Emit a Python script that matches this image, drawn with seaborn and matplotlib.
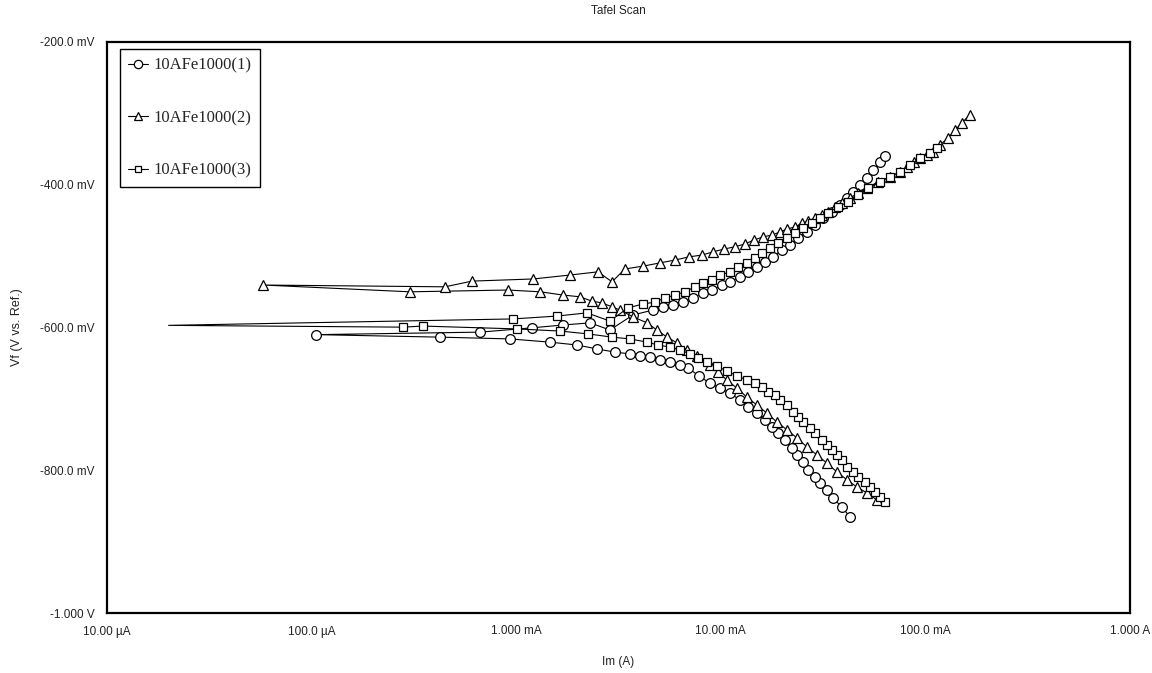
import matplotlib
matplotlib.use("Agg")
import matplotlib.pyplot as plt
import seaborn as sns
from matplotlib.lines import Line2D
from matplotlib.ticker import FixedLocator, NullLocator, FixedFormatter

# ---------------- data (current in A, potential in mV), scan order ----------------
series_names = ["10AFe1000(1)", "10AFe1000(2)", "10AFe1000(3)"]

i1 = [4.28e-2, 3.91e-2, 3.53e-2, 3.30e-2, 3.05e-2, 2.88e-2, 2.67e-2, 2.52e-2, 2.36e-2, 2.23e-2,
      2.06e-2, 1.91e-2, 1.78e-2, 1.64e-2, 1.50e-2, 1.36e-2, 1.24e-2, 1.11e-2, 9.91e-3, 8.85e-3,
      7.82e-3, 6.92e-3, 6.32e-3, 5.65e-3, 5.04e-3, 4.51e-3, 4.03e-3, 3.60e-3, 3.04e-3, 2.48e-3,
      1.98e-3, 1.46e-3, 9.33e-4, 4.25e-4, 1.05e-4,
      6.65e-4, 1.19e-3, 1.69e-3, 2.30e-3, 2.87e-3, 3.72e-3, 4.67e-3, 5.21e-3, 5.83e-3, 6.53e-3,
      7.31e-3, 8.18e-3, 9.06e-3, 1.01e-2, 1.11e-2, 1.24e-2, 1.36e-2, 1.50e-2, 1.64e-2, 1.80e-2,
      1.99e-2, 2.18e-2, 2.38e-2, 2.64e-2, 2.88e-2, 3.16e-2, 3.49e-2, 3.83e-2, 4.14e-2, 4.43e-2,
      4.79e-2, 5.19e-2, 5.55e-2, 6.00e-2, 6.35e-2]
v1 = [-865.5, -851.5, -839, -827.5, -818, -809.5, -800, -788.5, -778.5, -769,
      -757.5, -748, -739.5, -729.5, -720, -711.5, -701.5, -692, -685, -678,
      -668, -656.5, -652.5, -648.5, -645.5, -641.5, -640, -637, -634.5, -630,
      -624.5, -620.5, -616, -613.5, -610,
      -606.5, -600.5, -596.5, -593.5, -603.5, -582.5, -575.5, -571, -568.5, -564.5,
      -558.5, -551.5, -547.5, -540.5, -536, -529, -522, -515, -508, -501,
      -491.5, -484.5, -474.5, -466, -456.5, -446.5, -438, -428.5, -418.5, -410,
      -400.5, -390.5, -379.5, -368, -360]

i2 = [5.79e-2, 5.19e-2, 4.63e-2, 4.14e-2, 3.70e-2, 3.30e-2, 2.95e-2, 2.64e-2, 2.36e-2, 2.11e-2,
      1.88e-2, 1.68e-2, 1.50e-2, 1.34e-2, 1.20e-2, 1.07e-2, 9.68e-3, 8.85e-3, 7.66e-3, 6.84e-3,
      6.11e-3, 5.46e-3, 4.87e-3, 4.36e-3, 3.72e-3, 3.21e-3, 2.94e-3, 2.62e-3, 2.34e-3, 2.05e-3,
      1.69e-3, 1.31e-3, 9.12e-4, 3.03e-4, 5.8e-5,
      4.49e-4, 6.08e-4, 1.21e-3, 1.83e-3, 2.51e-3, 2.94e-3, 3.40e-3, 4.17e-3, 5.04e-3, 5.97e-3,
      7.00e-3, 8.09e-3, 9.16e-3, 1.04e-2, 1.17e-2, 1.31e-2, 1.45e-2, 1.61e-2, 1.78e-2, 1.95e-2,
      2.11e-2, 2.31e-2, 2.50e-2, 2.67e-2, 2.88e-2, 3.13e-2, 3.34e-2, 3.61e-2, 3.91e-2, 4.28e-2,
      4.69e-2, 5.19e-2, 5.86e-2, 6.71e-2, 7.52e-2, 8.13e-2, 8.79e-2, 9.42e-2, 1.02e-1, 1.09e-1,
      1.18e-1, 1.29e-1, 1.40e-1, 1.51e-1, 1.65e-1]
v2 = [-841.5, -832, -823.5, -813.5, -802.5, -790, -778.5, -767.5, -755, -743.5,
      -732.5, -720, -708.5, -697.5, -685, -673.5, -662.5, -652.5, -640, -631.5,
      -621.5, -613.5, -603.5, -593.5, -585, -575.5, -571, -565.5, -563, -557,
      -554.5, -550, -547.5, -550, -540.5,
      -543, -535, -532, -526.5, -522, -536, -518, -514, -509.5, -505.5,
      -501, -498.5, -494, -490, -487, -483, -477.5, -473, -470.5, -466,
      -462, -459, -453.5, -451, -446.5, -442.5, -438, -431, -425.5, -418.5,
      -411.5, -404.5, -396, -389, -382, -375, -368, -362.5, -358, -354,
      -344, -334.5, -323, -313, -302]

i3 = [6.35e-2, 6.00e-2, 5.67e-2, 5.36e-2, 5.07e-2, 4.69e-2, 4.43e-2, 4.14e-2, 3.91e-2, 3.70e-2,
      3.49e-2, 3.30e-2, 3.13e-2, 2.88e-2, 2.73e-2, 2.52e-2, 2.38e-2, 2.25e-2, 2.11e-2, 1.95e-2,
      1.84e-2, 1.70e-2, 1.59e-2, 1.47e-2, 1.34e-2, 1.20e-2, 1.07e-2, 9.57e-3, 8.57e-3, 7.75e-3,
      7.07e-3, 6.32e-3, 5.65e-3, 4.93e-3, 4.36e-3, 3.60e-3, 2.94e-3, 2.25e-3, 1.64e-3, 1.01e-3,
      3.50e-4, 2.80e-4, 2.0e-5,
      9.63e-4, 1.58e-3, 2.22e-3, 2.87e-3, 3.52e-3, 4.17e-3, 4.76e-3, 5.33e-3, 5.97e-3, 6.68e-3,
      7.48e-3, 8.18e-3, 9.06e-3, 9.91e-3, 1.11e-2, 1.21e-2, 1.34e-2, 1.47e-2, 1.59e-2, 1.74e-2,
      1.91e-2, 2.11e-2, 2.31e-2, 2.52e-2, 2.79e-2, 3.05e-2, 3.34e-2, 3.74e-2, 4.19e-2, 4.69e-2,
      5.25e-2, 6.00e-2, 6.71e-2, 7.52e-2, 8.41e-2, 9.42e-2, 1.05e-1, 1.14e-1]
v3 = [-844.5, -837.5, -830.5, -823.5, -816.5, -809.5, -802.5, -795.5, -785.5, -778.5,
      -771.5, -764.5, -757.5, -748, -741, -732.5, -725.5, -718.5, -708.5, -701.5,
      -694.5, -690.5, -683.5, -678, -673.5, -668, -661, -654, -648.5, -642.5,
      -637, -631.5, -627.5, -624.5, -620.5, -616, -613.5, -609, -605, -602,
      -598, -599.5, -597,
      -588, -584, -579.5, -591, -572.5, -567, -564.5, -558.5, -554.5, -550,
      -543, -537.5, -533.5, -526.5, -522, -515, -509.5, -502.5, -495.5, -488.5,
      -481.5, -474.5, -467.5, -460.5, -453.5, -446.5, -439.5, -431, -424, -414.5,
      -404.5, -396, -389, -382, -372.5, -362.5, -355.5, -348.5]

x_ticks = [1e-5, 1e-4, 1e-3, 1e-2, 1e-1, 1.0]
x_tick_labels = ["10.00 \u00b5A", "100.0 \u00b5A", "1.000 mA", "10.00 mA", "100.0 mA", "1.000 A"]
y_ticks = [-1000, -800, -600, -400, -200]
y_tick_labels = ["-1.000 V", "-800.0 mV", "-600.0 mV", "-400.0 mV", "-200.0 mV"]

# ---------------- figure ----------------
sns.set_style("white")
plt.rcParams["font.family"] = ["Liberation Sans", "DejaVu Sans"]

fig = plt.figure(figsize=(11.52, 6.73), dpi=100)
ax = fig.add_axes([107 / 1152, 1 - 613 / 673, (1130 - 107) / 1152, (613 - 42) / 673])

markers = ["o", "^", "s"]
msizes = [7.0, 7.0, 6.0]
data = [(i1, v1), (i2, v2), (i3, v3)]
for (ii, vv), mk, ms in zip(data, markers, msizes):
    # the lowest-current point of the square series carries no marker in the original
    if mk == "s":
        jmin = ii.index(min(ii))
        every = [k for k in range(len(ii)) if k != jmin]
    else:
        every = None
    sns.lineplot(x=ii, y=vv, ax=ax, sort=False, estimator=None, color="black",
                 linewidth=0.8, marker=mk, markersize=ms, markerfacecolor="white",
                 markeredgecolor="black", markeredgewidth=0.9, markevery=every,
                 legend=False)

ax.set_xscale("log")
ax.set_xlim(1e-5, 1.0)
ax.set_ylim(-1000, -200)
ax.xaxis.set_major_locator(FixedLocator(x_ticks))
ax.xaxis.set_major_formatter(FixedFormatter(x_tick_labels))
ax.xaxis.set_minor_locator(NullLocator())
ax.yaxis.set_major_locator(FixedLocator(y_ticks))
ax.yaxis.set_major_formatter(FixedFormatter(y_tick_labels))
ax.yaxis.set_minor_locator(NullLocator())

for s in ax.spines.values():
    s.set_visible(True)
    s.set_color("black")
    s.set_linewidth(1.6)
ax.tick_params(axis="both", which="major", direction="out", length=4, width=1.5,
               labelsize=8.5, colors="black", labelcolor="#222222", pad=5)

ax.set_xlabel("Im (A)", fontsize=8.5, color="#222222", labelpad=13)
ax.set_ylabel("Vf (V vs. Ref.)", fontsize=9, color="#222222", labelpad=12)
ax.set_title("Tafel Scan", fontsize=8.5, color="#222222", pad=20)
ax.grid(False)

handles = [Line2D([0], [0], color="black", lw=0.8, marker=mk, markersize=ms - 1,
                  markerfacecolor="white", markeredgecolor="black", markeredgewidth=0.9)
           for mk, ms in zip(markers, msizes)]
leg = ax.legend(handles, series_names, loc="upper left", bbox_to_anchor=(120 / 1152, 1 - 49 / 673),
                bbox_transform=fig.transFigure, frameon=True, fancybox=False, framealpha=1,
                edgecolor="black", borderpad=0.5, labelspacing=2.2, handlelength=1.2,
                handletextpad=0.3, borderaxespad=0,
                prop={"family": "Liberation Serif", "size": 12})
leg.get_frame().set_linewidth(1.0)

fig.savefig("out.png", dpi=100)
